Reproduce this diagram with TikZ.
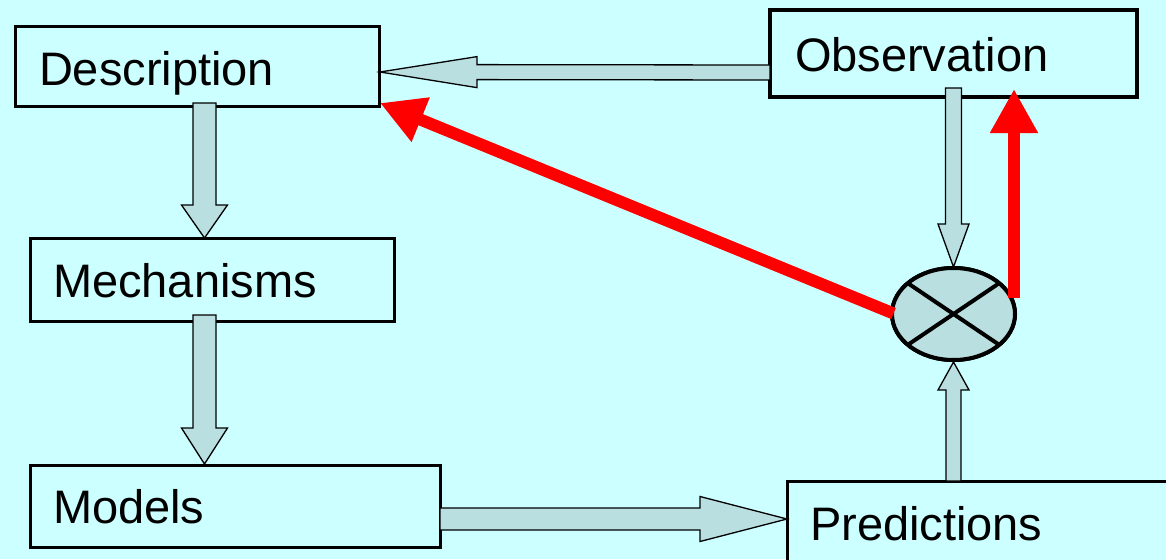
\documentclass[tikz,border=0pt]{standalone}
\usepackage{fontspec}
\setmainfont{Liberation Sans}
\usetikzlibrary{calc,shapes.geometric,arrows.meta}
\definecolor{bgcyan}{HTML}{CCFFFF}
\definecolor{arrfill}{HTML}{BADFE1}
\newcommand\blockarr[5]{%
  \coordinate (ba-h) at ($(#2)!#5!(#1)$);
  \draw[blockarrow] ($(#1)!#3!90:(#2)$) -- ($(ba-h)!#3!90:(#2)$) -- ($(ba-h)!#4!90:(#2)$) -- (#2)
    -- ($(ba-h)!#4!-90:(#2)$) -- ($(ba-h)!#3!-90:(#2)$) -- ($(#1)!#3!-90:(#2)$) -- cycle;}
\tikzset{
  box/.style={draw=black, line width=3pt, fill=bgcyan, rectangle, inner ysep=0pt, outer sep=0pt,
    align=left, text depth=0pt, font=\fontsize{47pt}{56pt}\selectfont, anchor=center},
  blockarrow/.style={draw=black, line width=1.3pt, fill=arrfill, line join=miter},
  cmpstyle/.style={ellipse, draw=black, line width=4pt, fill=arrfill, inner sep=0pt, outer sep=0pt},
  redarrow/.style={draw=red, line width=12pt, -{Triangle[width=45pt,length=44pt]}}
}
\begin{document}
\begin{tikzpicture}[x=1pt,y=-1pt]
\useasboundingbox (0,0) rectangle (1166,559);
\clip (0,0) rectangle (1166,559);
\fill[bgcyan] (0,0) rectangle (1166,559);

\node[box, minimum height=80pt, text width=316pt, inner xsep=24pt, text height=38pt] (desc) at (197,67) {Description};
\node[box, line width=4pt, minimum height=87pt, text width=317pt, inner xsep=25pt, text height=37pt] (obs) at (953.5,53.5) {Observation};
\node[box, minimum height=83pt, text width=318pt, inner xsep=23pt, text height=35pt] (mech) at (212,279.5) {Mechanisms};
\node[box, minimum height=82pt, text width=364pt, inner xsep=23pt, text height=34pt] (models) at (235,506) {Models};
\node[box, minimum height=118pt, text width=347pt, inner xsep=23pt, text height=0pt] (pred) at (983.5,540) {Predictions};

\node[cmpstyle, minimum width=123pt, minimum height=92pt] (cmp) at (953.5,314) {};

\coordinate (s1) at ($(desc.south)+(7.5,-4)$);
\coordinate (e1) at ($(mech.north)+(-7.5,0)$);
\coordinate (s2) at ($(mech.south)+(-7.5,-6)$);
\coordinate (e2) at ($(models.north)+(-30.5,-1)$);
\coordinate (s3) at ($(models.east)+(0,13)$);
\coordinate (e3) at ($(pred.west)+(0,-21)$);
\coordinate (s4) at ($(obs.west)+(0,19)$);
\coordinate (e4) at ($(desc.east)+(1,5)$);
\coordinate (s5) at ($(obs.south)+(0,-9)$);
\coordinate (e5) at ($(cmp.north)+(0,-1)$);
\coordinate (s6) at ($(pred.north)+(-30,0)$);
\coordinate (e6) at ($(cmp.south)+(0,2)$);

\blockarr{s1}{e1}{11.5pt}{23pt}{33pt}
\blockarr{s2}{e2}{11.5pt}{23pt}{36pt}
\blockarr{s3}{e3}{11pt}{22.5pt}{87pt}
\blockarr{s4}{e4}{7.5pt}{15.5pt}{97pt}
\blockarr{s5}{e5}{8pt}{15.5pt}{43pt}
\blockarr{s6}{e6}{7.5pt}{15.5pt}{28pt}

\node[cmpstyle, minimum width=123pt, minimum height=92pt] at (cmp) {};
\draw[line width=4pt] (cmp.146) -- (cmp.326) (cmp.34) -- (cmp.214);

\coordinate (r1s) at ($(cmp.east)+(-1,-16)$);
\coordinate (r1e) at ($(obs.south)+(60.5,-8)$);
\coordinate (r2s) at ($(cmp.west)+(1.5,-0.5)$);
\coordinate (r2e) at ($(desc.south east)+(1,-4)$);
\draw[redarrow] (r1s) -- (r1e);
\draw[redarrow] (r2s) -- (r2e);
\end{tikzpicture}
\end{document}
